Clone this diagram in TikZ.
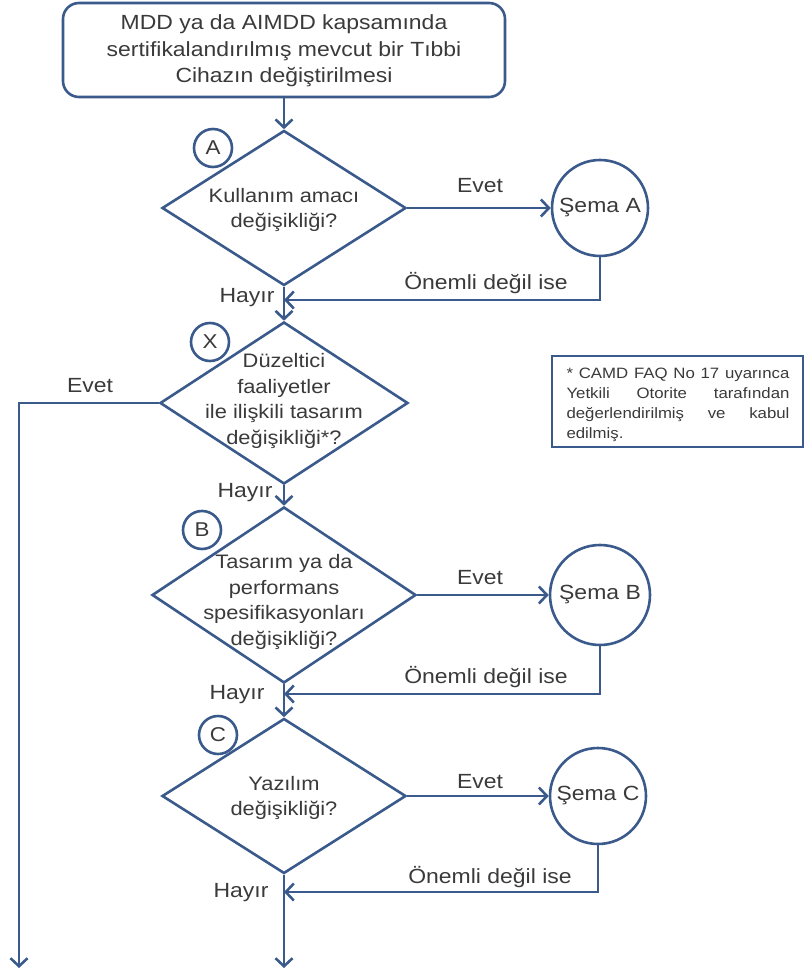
\documentclass[tikz,border=0pt]{standalone}
\usepackage{fontspec}
\setmainfont{Liberation Sans}[FakeStretch=1.12]
\usetikzlibrary{shapes.geometric,arrows.meta}
\definecolor{bl}{HTML}{3A5A8C}
\definecolor{tx}{HTML}{3A3A3A}
\begin{document}
\begin{tikzpicture}[x=1pt,y=-1pt,
 ln/.style={draw=bl,line width=2.6pt},
 arr/.style={ln,-{Straight Barb[length=8pt,width=17pt]}},
 dia/.style={diamond,draw=bl,line width=2.6pt,inner sep=0pt},
 qtext/.style={text=tx,align=center,inner sep=0pt,font=\fontsize{19.5}{25.5}\selectfont},
 lab/.style={text=tx,inner sep=0pt,font=\fontsize{20.5}{24}\selectfont},
 tag/.style={circle,draw=bl,line width=2.6pt,minimum size=38pt,inner sep=0pt,fill=white,text=tx,font=\fontsize{20}{24}\selectfont},
 sema/.style={circle,draw=bl,line width=2.6pt,minimum size=96pt,inner sep=0pt,text=tx,font=\fontsize{20.5}{24}\selectfont},
]
\useasboundingbox (0,0) rectangle (808,976);

% start box
\node[draw=bl,line width=2.6pt,rounded corners=16pt,minimum width=442pt,minimum height=94pt] (box) at (284,50) {};
\node[qtext,font=\fontsize{20.5}{26.5}\selectfont] (tT) at (284,51) {MDD ya da AIMDD kapsamında\\sertifikalandırılmış mevcut bir Tıbbi\\Cihazın değiştirilmesi};

% diamonds
\node[dia,minimum width=244pt,minimum height=155pt] (dA) at (284,208) {};
\node[qtext] (tA) at (284,210) {Kullanım amacı\\değişikliği?};
\node[tag] (cA) at (213,148) {A};

\node[dia,minimum width=248pt,minimum height=162pt] (dX) at (284,403) {};
\node[qtext] (tX) at (284,401) {Düzeltici\\faaliyetler\\ile ilişkili tasarım\\değişikliği*?};
\node[tag] (cX) at (210,342) {X};

\node[dia,minimum width=264pt,minimum height=176pt] (dB) at (284,595) {};
\node[qtext] (tB) at (284,602) {Tasarım ya da\\performans\\spesifikasyonları\\değişikliği?};
\node[tag] (cB) at (202,530) {B};

\node[dia,minimum width=244pt,minimum height=155pt] (dC) at (284,796) {};
\node[qtext] (tC) at (284,798) {Yazılım\\değişikliği?};
\node[tag] (cC) at (218,735) {C};

% schema circles
\node[sema] (sA) at (600,208) {Şema A};
\node[sema,minimum size=100pt] (sB) at (600,595) {Şema B};
\node[sema] (sC) at (598,796) {Şema C};

% note
\node[draw=bl,line width=1.4pt,minimum width=251pt,minimum height=91pt] (note) at (677.5,401.5) {};
\node[text=tx,inner sep=0pt,text width=223pt,align=justify,font=\fontsize{15}{20}\selectfont] (tN) at (678,405) {* CAMD FAQ No 17 uyarınca Yetkili Otorite tarafından değerlendirilmiş ve kabul edilmiş.};

% junction coordinates
\coordinate (jA) at (284,300);
\coordinate (jB) at (284,694);
\coordinate (jC) at (284,892);
\coordinate (eX) at (19,403);
\coordinate (endL) at (19,968);
\coordinate (endM) at (284,968);

% connectors
\draw[arr] (box.south) -- (dA.north);
\draw[arr] (dA.east) -- (sA.west);
\draw[arr] (sA.south) |- (jA);
\draw[arr] (dA.south) -- (dX.north);
\draw[arr] (dX.west) -- (eX) -- (endL);
\draw[arr] (dX.south) -- (dB.north);
\draw[arr] (dB.east) -- (sB.west);
\draw[arr] (sB.south) |- (jB);
\draw[arr] (dB.south) -- (dC.north);
\draw[arr] (dC.east) -- (sC.west);
\draw[arr] (sC.south) |- (jC);
\draw[arr] (dC.south) -- (endM);

% labels
\node[lab] (lEA) at (480,186) {Evet};
\node[lab] (lOA) at (486,283) {Önemli değil ise};
\node[lab] (lHA) at (247,298) {Hayır};
\node[lab] (lEX) at (90,386) {Evet};
\node[lab] (lHX) at (245,493) {Hayır};
\node[lab] (lEB) at (480,578) {Evet};
\node[lab] (lOB) at (486,677) {Önemli değil ise};
\node[lab] (lHB) at (237,695) {Hayır};
\node[lab] (lEC) at (480,782) {Evet};
\node[lab] (lOC) at (490,877) {Önemli değil ise};
\node[lab] (lHC) at (241,893) {Hayır};
\end{tikzpicture}
\end{document}
